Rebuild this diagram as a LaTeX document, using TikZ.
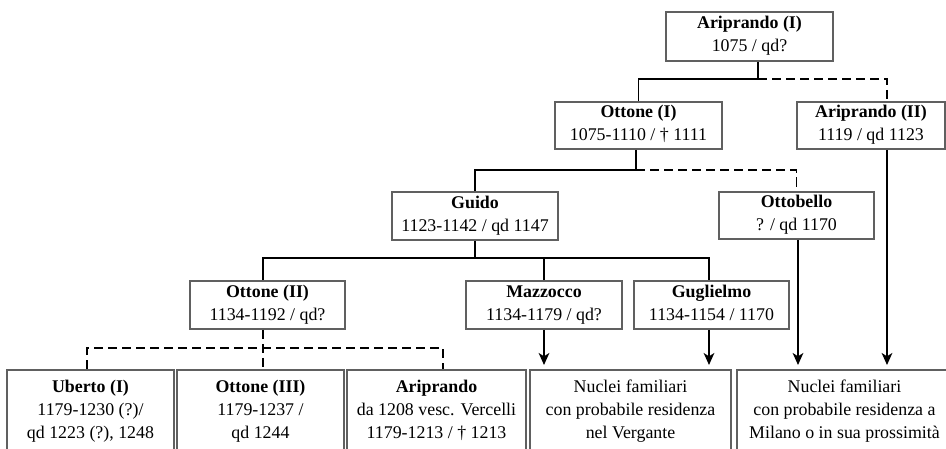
\documentclass[tikz,border=0pt]{standalone}
\usepackage{fontspec}
\setmainfont{Liberation Serif}
\usetikzlibrary{arrows.meta}
\definecolor{boxgray}{HTML}{606060}
\tikzset{
  box/.style={draw=boxgray, line width=1.3pt, fill=white, align=center, inner sep=0pt,
    font=\fontsize{13.4}{17.25}\selectfont,
    execute at begin node=\rule{0pt}{13.9pt}, execute at end node=\rule[-3.35pt]{0pt}{3.35pt}},
  lowbox/.style={box, anchor=north, inner ysep=7.85pt},
  conn/.style={draw=black, line width=1.3pt},
  dconn/.style={conn, dash pattern=on 7pt off 3.5pt},
  arr/.style={conn, -{Stealth[length=9pt,width=8pt,inset=2.5pt]}, shorten >=3pt},
}
\begin{document}
\begin{tikzpicture}[x=0.75pt,y=-0.75pt]
\useasboundingbox (0,0) rectangle (946,449);
\clip (0,0) rectangle (946,449);

\node[box, minimum width=125.25pt, minimum height=36.75pt] (A1) at (749.5,36.5) {\textbf{Ariprando (I)}\\1075 / qd?};
\node[box, minimum width=125.25pt, minimum height=35.25pt] (O1) at (638.5,125.5) {\textbf{Ottone (I)}\\1075-1110 / † 1111};
\node[box, minimum width=111pt, minimum height=35.25pt] (A2) at (871,125.5) {\textbf{Ariprando (II)}\\1119 / qd 1123};
\node[box, minimum width=124.5pt, minimum height=36pt] (G) at (475,216) {\textbf{Guido}\\1123-1142 / qd 1147};
\node[box, minimum width=116.25pt, minimum height=35.25pt] (Ob) at (796.5,215.5) {\textbf{Ottobello}\\? / qd 1170};
\node[box, minimum width=116.25pt, minimum height=36pt] (O2) at (267.5,305) {\textbf{Ottone (II)}\\1134-1192 / qd?};
\node[box, minimum width=117pt, minimum height=36pt] (Mz) at (544,305) {\textbf{Mazzocco}\\1134-1179 / qd?};
\node[box, minimum width=116.25pt, minimum height=36pt] (Gu) at (711.5,305) {\textbf{Guglielmo}\\1134-1154 / 1170};

\node[lowbox, minimum width=125.25pt] (B1) at (90.5,369) {\textbf{Uberto (I)}\\1179-1230 (?)/\\qd 1223 (?), 1248};
\node[lowbox, minimum width=125.25pt] (B2) at (260.5,369) {\textbf{Ottone (III)}\\1179-1237 /\\qd 1244};
\node[lowbox, minimum width=134.25pt] (B3) at (436.5,369) {\textbf{Ariprando}\\da 1208 vesc. Vercelli\\1179-1213 / † 1213};
\node[lowbox, minimum width=150.75pt] (B4) at (630.5,369) {Nuclei familiari\\con probabile residenza\\nel Vergante};
\node[lowbox, minimum width=161.25pt] (B5) at (844.5,369) {Nuclei familiari\\con probabile residenza a\\Milano o in sua prossimità};

% Ariprando (I) children
\coordinate (j1) at (758,79);
\coordinate (a2x) at (887,0);
\draw[conn] (A1.south -| j1) -- (j1) -| (O1.north);
\draw[dconn] (j1) -| (A2.north -| a2x);

% Ottone (I) children
\coordinate (j2) at (636,170);
\draw[conn] (O1.south -| j2) -- (j2) -| (G.north);
\draw[dconn] (j2) -| (Ob.north);

% Guido children
\coordinate (j3) at (475,258);
\draw[conn] (G.south) -- (j3);
\draw[conn] (O2.north -| 263,0) |- (j3) -| (Gu.north -| 709,0);
\draw[conn] (Mz.north) -- (Mz.north |- j3);

% Ottone (II) children
\coordinate (j4) at (263,348);
\draw[dconn] (O2.south -| j4) -- (B2.north -| j4);
\draw[dconn] (B1.north -| 87,0) |- (j4) -| (B3.north -| 443,0);

% arrows to family groups
\draw[arr] (Mz.south) -- (B4.north -| Mz.south);
\draw[arr] (Gu.south -| 709,0) -- (B4.north -| 709,0);
\draw[arr] (Ob.south -| 798,0) -- (B5.north -| 798,0);
\draw[arr] (A2.south -| a2x) -- (B5.north -| a2x);
\end{tikzpicture}
\end{document}
